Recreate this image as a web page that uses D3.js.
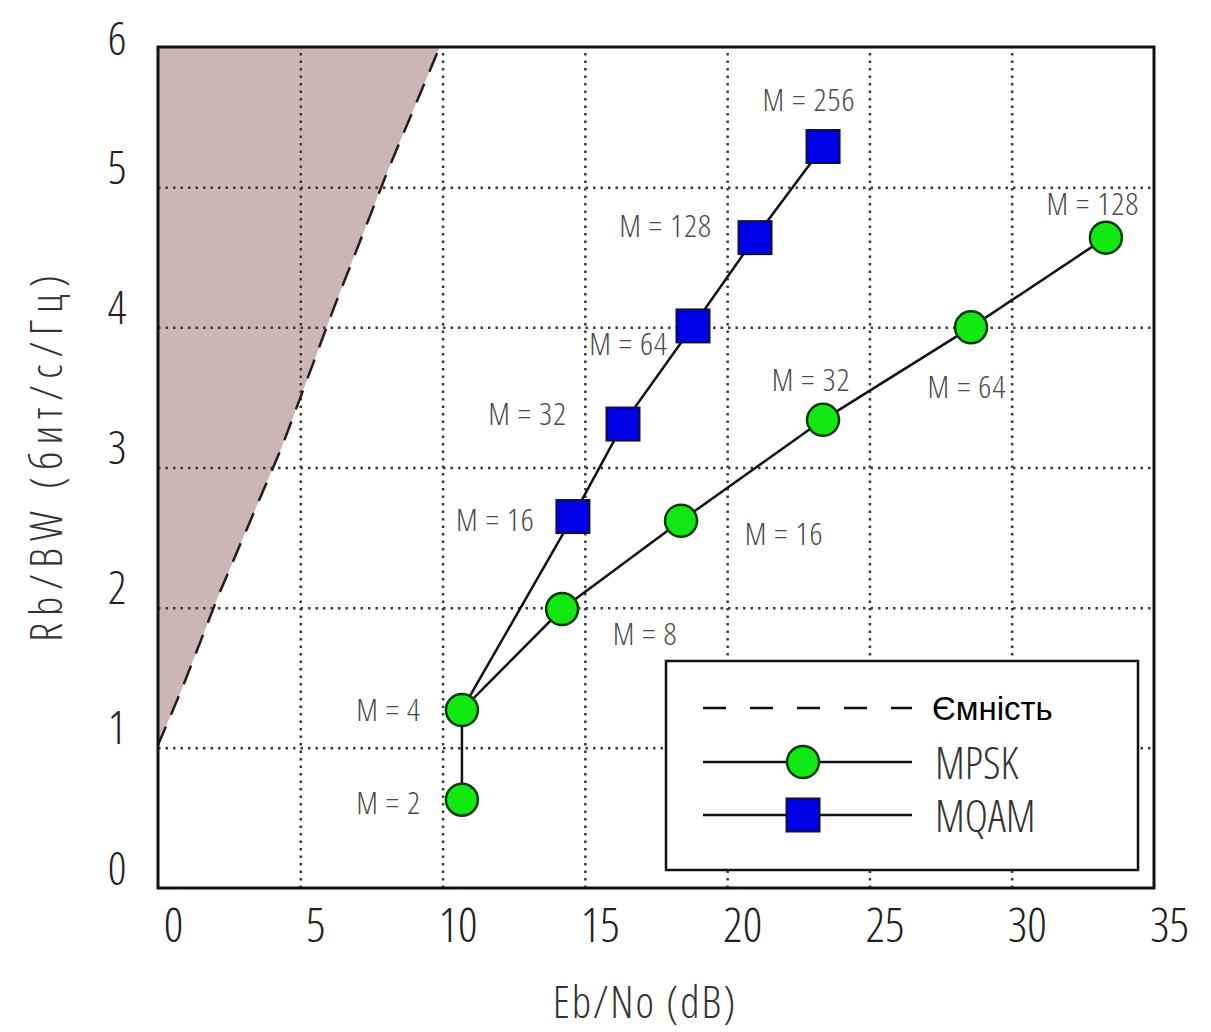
<!DOCTYPE html>
<html>
<head>
<meta charset="utf-8">
<script src="https://cdn.jsdelivr.net/npm/d3@7"></script>
<style>
  body { margin: 0; background: #fff; }
  text { font-family: "Open Sans", "DejaVu Sans Condensed", sans-serif; font-stretch: 75%; font-weight: 300; }
  text.arial { font-family: "Liberation Sans", Arial, sans-serif; font-stretch: normal; font-weight: 400; }
</style>
</head>
<body>
<main></main>
<script>
// values
const xTicks = [0, 5, 10, 15, 20, 25, 30, 35];
const yTicks = [0, 1, 2, 3, 4, 5, 6];

const mpskM = [2, 4, 8, 16, 32, 64, 128];
const mpskEbNo = [10.68, 10.68, 14.2, 18.38, 23.37, 28.57, 33.31];
const mpskRate = [0.63, 1.27, 1.99, 2.62, 3.34, 4.0, 4.64];

const mqamM = [4, 16, 32, 64, 128, 256];
const mqamEbNo = [10.68, 14.58, 16.34, 18.8, 20.98, 23.37];
const mqamRate = [1.27, 2.65, 3.31, 4.01, 4.64, 5.29];

const capEbNo = [0, 0.86, 2.11, 4.36, 6.22, 8.08, 9.9];
const capRate = [1.02, 1.43, 2.08, 3.15, 4.16, 5.12, 6];

const legendNames = ["Ємність", "MPSK", "MQAM"];

// label placement next to each marker: [anchor, dx, dy]
const mpskLabelPos = [["end", -41, 2], ["end", -41, -1], ["middle", 83, 23], ["middle", 103, 12],
                      ["middle", -12, -41], ["middle", -4, 58], ["middle", -13, -35]];
const mqamLabelPos = [null, ["end", -38, 2], ["end", -56, -12], ["end", -25, 17],
                      ["end", -43, -13], ["middle", -14, -48]];

const W = 1211, H = 1032;
const pLeft = 158, pRight = 1154, pTop = 47, pBottom = 888;

const svg = d3.select("main").append("svg")
  .attr("width", W).attr("height", H);

const x = d3.scaleLinear().domain([0, 35]).range([pLeft, pRight]);
const y = d3.scaleLinear().domain([0, 6]).range([pBottom, pTop]);

// shaded region beyond capacity
const capPts = capEbNo.map((d, i) => [d, capRate[i]]);
const fillPts = capPts.concat([[0, 6]]);
const line = d3.line().x(d => x(d[0])).y(d => y(d[1]));
svg.append("path")
  .attr("d", line(fillPts) + "Z")
  .attr("fill", "#cbb5b6");

// grid
svg.append("g")
  .attr("transform", `translate(0,${pBottom})`)
  .call(d3.axisBottom(x).tickValues(xTicks.slice(1, -1)).tickSize(-(pBottom - pTop)).tickFormat(""))
  .call(g => g.select(".domain").remove())
  .call(g => g.selectAll("line").attr("stroke", "#3a3a3a").attr("stroke-width", 2.5).attr("stroke-dasharray", "2.5,5"));
svg.append("g")
  .attr("transform", `translate(${pLeft},0)`)
  .call(d3.axisLeft(y).tickValues(yTicks.slice(1, -1)).tickSize(-(pRight - pLeft)).tickFormat(""))
  .call(g => g.select(".domain").remove())
  .call(g => g.selectAll("line").attr("stroke", "#3a3a3a").attr("stroke-width", 2.5).attr("stroke-dasharray", "2.5,5"));

// capacity line
svg.append("path")
  .attr("d", line(capPts))
  .attr("fill", "none")
  .attr("stroke", "#2a1a1a")
  .attr("stroke-width", 2.5)
  .attr("stroke-dasharray", "20,13");

// frame
svg.append("rect")
  .attr("x", pLeft).attr("y", pTop)
  .attr("width", pRight - pLeft).attr("height", pBottom - pTop)
  .attr("fill", "none").attr("stroke", "#111").attr("stroke-width", 3);

// tick labels
svg.append("g")
  .attr("transform", `translate(0,${pBottom})`)
  .call(d3.axisBottom(x).tickValues(xTicks).tickSize(0).tickFormat(d3.format("d")))
  .call(g => g.select(".domain").remove())
  .call(g => g.selectAll("text")
    .attr("x", 15).attr("y", 35).attr("dy", null)
    .attr("dominant-baseline", "central")
    .attr("font-size", 48).attr("fill", "#222"))
  .attr("font-family", null).attr("font-size", null);
svg.append("g")
  .attr("transform", `translate(${pLeft},0)`)
  .call(d3.axisLeft(y).tickValues(yTicks).tickSize(0).tickFormat(d3.format("d")))
  .call(g => g.select(".domain").remove())
  .call(g => g.selectAll("text")
    .attr("x", -41).attr("y", d => d === 6 ? -11 : -22).attr("dy", null)
    .attr("text-anchor", "middle")
    .attr("dominant-baseline", "central")
    .attr("font-size", 46).attr("fill", "#222"))
  .attr("font-family", null).attr("font-size", null);

// axis titles
svg.append("text")
  .attr("x", 645).attr("y", 1001)
  .attr("text-anchor", "middle").attr("dominant-baseline", "central")
  .attr("font-size", 44).attr("letter-spacing", 2).attr("fill", "#333")
  .text("Eb/No (dB)");
svg.append("text")
  .attr("transform", "translate(45,455) rotate(-90)")
  .attr("text-anchor", "middle").attr("dominant-baseline", "central")
  .attr("font-size", 44).attr("letter-spacing", 7).attr("fill", "#333")
  .text("Rb/BW (бит/с/Гц)");

// series
const mpsk = mpskM.map((m, i) => ({m: m, x: mpskEbNo[i], y: mpskRate[i], pos: mpskLabelPos[i]}));
const mqam = mqamM.map((m, i) => ({m: m, x: mqamEbNo[i], y: mqamRate[i], pos: mqamLabelPos[i]}));
const pline = d3.line().x(d => x(d.x)).y(d => y(d.y));

svg.append("path").attr("d", pline(mqam))
  .attr("fill", "none").attr("stroke", "#111").attr("stroke-width", 2.5);
svg.append("path").attr("d", pline(mpsk))
  .attr("fill", "none").attr("stroke", "#111").attr("stroke-width", 2.5);

const sq = 33;
svg.selectAll(".sq")
  .data(mqam.filter(d => d.pos))
  .enter().append("rect")
  .attr("class", "sq")
  .attr("x", d => x(d.x) - sq / 2).attr("y", d => y(d.y) - sq / 2)
  .attr("width", sq).attr("height", sq)
  .attr("fill", "#0000e8").attr("stroke", "#10103a").attr("stroke-width", 2);

svg.selectAll(".dot")
  .data(mpsk)
  .enter().append("circle")
  .attr("class", "dot")
  .attr("cx", d => x(d.x)).attr("cy", d => y(d.y))
  .attr("r", 16)
  .attr("fill", "#12e812").attr("stroke", "#0b3a0b").attr("stroke-width", 2.5);

// M labels
const labelled = mpsk.concat(mqam.filter(d => d.pos));
svg.selectAll(".mlab")
  .data(labelled)
  .enter().append("text")
  .attr("class", "mlab")
  .attr("x", d => x(d.x) + d.pos[1])
  .attr("y", d => y(d.y) + d.pos[2])
  .attr("text-anchor", d => d.pos[0])
  .attr("dominant-baseline", "central")
  .attr("font-size", 32).attr("letter-spacing", 1).attr("fill", "#4a4a4a")
  .text(d => "M = " + d.m);

// legend
const lg = svg.append("g");
lg.append("rect")
  .attr("x", 666).attr("y", 661).attr("width", 472).attr("height", 209)
  .attr("fill", "#fff").attr("stroke", "#111").attr("stroke-width", 2.5);
const rowY = [708, 762, 815];
lg.append("line")
  .attr("x1", 703).attr("x2", 912).attr("y1", rowY[0]).attr("y2", rowY[0])
  .attr("stroke", "#111").attr("stroke-width", 2.5).attr("stroke-dasharray", "23,24");
lg.append("line")
  .attr("x1", 703).attr("x2", 912).attr("y1", rowY[1]).attr("y2", rowY[1])
  .attr("stroke", "#111").attr("stroke-width", 2.5);
lg.append("circle")
  .attr("cx", 803).attr("cy", rowY[1]).attr("r", 16)
  .attr("fill", "#12e812").attr("stroke", "#0b3a0b").attr("stroke-width", 2.5);
lg.append("line")
  .attr("x1", 703).attr("x2", 912).attr("y1", rowY[2]).attr("y2", rowY[2])
  .attr("stroke", "#111").attr("stroke-width", 2.5);
lg.append("rect")
  .attr("x", 803 - sq / 2).attr("y", rowY[2] - sq / 2).attr("width", sq).attr("height", sq)
  .attr("fill", "#0000e8").attr("stroke", "#10103a").attr("stroke-width", 2);
lg.append("text")
  .attr("class", "arial")
  .attr("x", 932).attr("y", rowY[0])
  .attr("dominant-baseline", "central")
  .attr("font-size", 33).attr("fill", "#000")
  .text(legendNames[0]);
lg.selectAll(".lgt")
  .data(legendNames.slice(1))
  .enter().append("text")
  .attr("class", "lgt")
  .attr("x", 935).attr("y", (d, i) => rowY[i + 1])
  .attr("dominant-baseline", "central")
  .attr("font-size", 44).attr("fill", "#333")
  .text(d => d);
</script>
</body>
</html>
